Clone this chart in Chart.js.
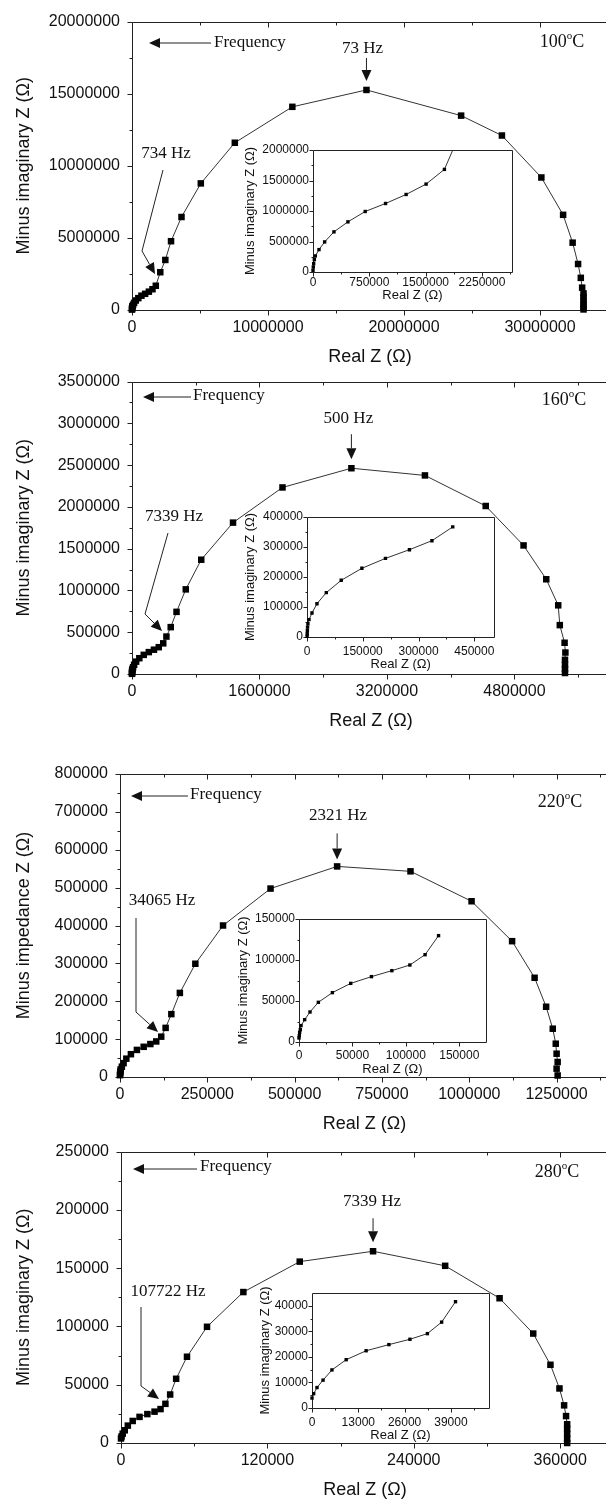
<!DOCTYPE html>
<html>
<head>
<meta charset="utf-8">
<script src="https://cdn.jsdelivr.net/npm/chart.js@4.4.0/dist/chart.umd.min.js"></script>
<style>
  html, body { margin: 0; padding: 0; background: #fff; overflow: hidden; }
  #page { position: relative; width: 606px; height: 1500px; overflow: hidden; background: #fff; }
  #page canvas { position: absolute; }
</style>
</head>
<body>
<div id="page"></div>
<script>
// Nyquist plots, real vs. minus imaginary impedance (ohm).
// "Hi" = high-frequency arc (the part shown in each inset), "Lo" = rest of the sweep.

// 100 °C
const re100Hi = [0, 4000, 9000, 18000, 31000, 80000, 155000, 279000, 465000, 695000, 966000, 1240000, 1506000, 1750000]
const im100Hi = [27000, 82000, 137000, 203000, 263000, 367000, 493000, 658000, 822000, 992000, 1123000, 1271000, 1441000, 1682000]
const re100Lo = [2080000, 2450000, 2870000, 3640000, 5060000, 7560000, 11790000, 17240000, 24200000, 27200000, 30100000, 31700000, 32400000, 32800000, 33000000, 33100000, 33200000, 33200000, 33200000, 33200000, 33200000, 33200000]
const im100Lo = [2620000, 3470000, 4770000, 6450000, 8780000, 11600000, 14090000, 15260000, 13480000, 12100000, 9190000, 6600000, 4670000, 3190000, 2230000, 1550000, 1150000, 900000, 650000, 420000, 200000, 40000]

// 160 °C
const re160Hi = [300, 600, 1000, 1500, 2500, 5400, 13400, 26800, 51900, 92000, 147600, 211000, 275500, 336000, 392000]
const im160Hi = [2200, 11000, 22000, 33000, 44000, 58000, 80000, 111000, 148000, 189000, 229000, 262000, 291000, 321000, 367000]
const re160Lo = [432000, 486000, 559000, 675000, 869000, 1268000, 1889000, 2754000, 3677000, 4440000, 4915000, 5200000, 5350000, 5370000, 5430000, 5440000, 5435000, 5435000, 5435000, 5435000]
const im160Lo = [448000, 561000, 744000, 1013000, 1368000, 1812000, 2233000, 2463000, 2377000, 2011000, 1539000, 1134000, 822000, 585000, 374000, 257000, 170000, 110000, 60000, 12000]

// 220 °C
const re220Hi = [0, 300, 600, 1250, 1900, 5300, 10300, 18100, 31250, 48400, 67800, 86900, 103750, 118000, 130600]
const im220Hi = [4900, 7700, 11800, 15000, 20000, 27200, 36600, 48400, 60200, 71500, 79700, 87000, 93900, 106500, 129700]
const re220Lo = [147000, 171400, 215700, 295000, 431000, 621600, 831700, 1006500, 1122600, 1187000, 1220000, 1239000, 1247600, 1250000, 1253000, 1250000, 1253000]
const im220Lo = [166000, 222000, 299000, 400000, 497500, 556000, 543000, 464000, 358600, 262000, 185500, 127500, 87900, 61500, 39600, 22000, 4000]

// 280 °C
const re280Hi = [0, 470, 1400, 3100, 5600, 9600, 15200, 21600, 27500, 32400, 36400, 40300]
const im280Hi = [3900, 5600, 8000, 10900, 14900, 18900, 22400, 24800, 26900, 29100, 33600, 41600]
const re280Lo = [45200, 54100, 70500, 100300, 146500, 206600, 265700, 310300, 337900, 352000, 359400, 363200, 364800, 365700, 365700, 365700, 365700, 365700]
const im280Lo = [55100, 74000, 99700, 129500, 155600, 164500, 152000, 124200, 93900, 67100, 46800, 32300, 23100, 16100, 12000, 7800, 3600, 0]

// tick labels
const xTicks100 = [0, 10000000, 20000000, 30000000]
const yTicks100 = [0, 5000000, 10000000, 15000000, 20000000]
const xTicks100In = [0, 750000, 1500000, 2250000]
const yTicks100In = [0, 500000, 1000000, 1500000, 2000000]
const xTicks160 = [0, 1600000, 3200000, 4800000]
const yTicks160 = [0, 500000, 1000000, 1500000, 2000000, 2500000, 3000000, 3500000]
const xTicks160In = [0, 150000, 300000, 450000]
const yTicks160In = [0, 100000, 200000, 300000, 400000]
const xTicks220 = [0, 250000, 500000, 750000, 1000000, 1250000]
const yTicks220 = [0, 100000, 200000, 300000, 400000, 500000, 600000, 700000, 800000]
const xTicks220In = [0, 50000, 100000, 150000]
const yTicks220In = [0, 50000, 100000, 150000]
const xTicks280 = [0, 120000, 240000, 360000]
const yTicks280 = [0, 50000, 100000, 150000, 200000, 250000]
const xTicks280In = [0, 13000, 26000, 39000]
const yTicks280In = [0, 10000, 20000, 30000, 40000]

const SANS = '"Liberation Sans", Arial, sans-serif'
const SERIF = '"Liberation Serif", "Times New Roman", serif'
const INK = '#111'
const page = document.getElementById('page')

// half-step minor ticks between the labelled ones
function minors(major, max) {
  const step = (major[1] - major[0]) / 2
  const out = []
  for (let v = step; v < max - step / 100; v += step) {
    if (!major.some(m => Math.abs(m - v) < step / 10)) out.push(v)
  }
  return out
}

function arrow(ctx, a, b, len = 11, half = 5) {
  const ang = Math.atan2(b[1] - a[1], b[0] - a[0])
  const bx = b[0] - len * Math.cos(ang), by = b[1] - len * Math.sin(ang)
  ctx.beginPath()
  ctx.moveTo(a[0], a[1])
  ctx.lineTo(bx, by)
  ctx.stroke()
  ctx.beginPath()
  ctx.moveTo(b[0], b[1])
  ctx.lineTo(bx + half * Math.sin(ang), by - half * Math.cos(ang))
  ctx.lineTo(bx - half * Math.sin(ang), by + half * Math.cos(ang))
  ctx.closePath()
  ctx.fill()
}

// axis box and tick marks
function framePlugin(o) {
  return {
    id: 'frame',
    beforeDatasetsDraw(chart) {
      const { ctx, chartArea: a } = chart
      const sx = chart.scales.x, sy = chart.scales.y
      const l = Math.round(a.left) + 0.5, r = Math.round(a.right) + 0.5
      const t = Math.round(a.top) + 0.5, b = Math.round(a.bottom) + 0.5
      ctx.save()
      if (o.inset) {
        ctx.fillStyle = '#fff'
        ctx.fillRect(a.left, a.top, a.right - a.left, a.bottom - a.top)
      }
      ctx.strokeStyle = '#222'
      ctx.lineWidth = 1
      ctx.beginPath()
      ctx.moveTo(r, t); ctx.lineTo(l, t); ctx.lineTo(l, b); ctx.lineTo(r, b); ctx.lineTo(r, t)
      const xMarks = (vals, len) => vals.forEach(v => {
        const p = Math.round(sx.getPixelForValue(v)) + 0.5
        ctx.moveTo(p, b); ctx.lineTo(p, b + len)
        if (o.topTicks) { ctx.moveTo(p, t); ctx.lineTo(p, t + len) }
      })
      const yMarks = (vals, len) => vals.forEach(v => {
        const p = Math.round(sy.getPixelForValue(v)) + 0.5
        ctx.moveTo(l, p); ctx.lineTo(l - len, p)
      })
      xMarks(o.xTicks, o.tickLen)
      xMarks(minors(o.xTicks, o.xMax), o.minorLen)
      yMarks(o.yTicks, o.tickLen)
      yMarks(minors(o.yTicks, o.yMax), o.minorLen)
      ctx.stroke()
      ctx.restore()
    }
  }
}

// frequency arrow, peak label, temperature, pointer label
function notesPlugin(o) {
  return {
    id: 'notes',
    afterDraw(chart) {
      const n = o.notes
      if (!n) return
      const ctx = chart.ctx
      const cx = o.box[0], cy = o.box[1]
      const P = p => [p[0] - cx, p[1] - cy]
      ctx.save()
      ctx.fillStyle = INK
      ctx.strokeStyle = '#222'
      ctx.lineWidth = 1
      ctx.font = '17px ' + SERIF
      ctx.textBaseline = 'middle'

      arrow(ctx, P(n.freq.tail), P(n.freq.tip))
      ctx.textAlign = 'left'
      const ft = P(n.freq.text)
      ctx.fillText('Frequency', ft[0], ft[1])

      // arrow over the apex of the arc
      const pts = chart.data.datasets[0].data
      const ys = pts.map(d => d.y)
      const k = ys.indexOf(Math.max(...ys))
      const px = chart.scales.x.getPixelForValue(pts[k].x)
      const py = chart.scales.y.getPixelForValue(pts[k].y)
      ctx.textAlign = 'center'
      ctx.fillText(n.peak.text, px + n.peak.dx, py + n.peak.label)
      arrow(ctx, [px, py + n.peak.from], [px, py + n.peak.to])

      const pl = n.pointer.path.map(P)
      ctx.beginPath()
      ctx.moveTo(pl[0][0], pl[0][1])
      ctx.lineTo(pl[1][0], pl[1][1])
      ctx.stroke()
      arrow(ctx, pl[1], pl[2], 11, 5)
      const pa = P(n.pointer.at)
      ctx.fillText(n.pointer.text, pa[0], pa[1])

      // temperature with superscript degree
      const tp = P(n.temp.at)
      ctx.font = '18px ' + SERIF
      const w1 = ctx.measureText(n.temp.value).width
      const wC = ctx.measureText('C').width
      ctx.font = '11px ' + SERIF
      const wo = ctx.measureText('o').width
      let x0 = tp[0] - (w1 + wo + wC) / 2
      ctx.textAlign = 'left'
      ctx.font = '18px ' + SERIF
      ctx.fillText(n.temp.value, x0, tp[1])
      ctx.font = '11px ' + SERIF
      ctx.fillText('o', x0 + w1, tp[1] - 6)
      ctx.font = '18px ' + SERIF
      ctx.fillText('C', x0 + w1 + wo, tp[1])
      ctx.restore()
    }
  }
}

function build(o) {
  const [L, T, R, B] = o.area
  const [cx, cy, cw, ch] = o.box
  const cv = document.createElement('canvas')
  cv.width = cw
  cv.height = ch
  cv.style.left = cx + 'px'
  cv.style.top = cy + 'px'
  page.appendChild(cv)

  const tickFont = { family: SANS, size: o.tickSize }
  const titleFont = { family: SANS, size: o.titleSize }
  const tickLH = o.tickSize * 1.2, titleLH = o.titleSize * 1.2
  const points = o.re.map((v, i) => ({ x: v, y: o.im[i] }))

  return new Chart(cv, {
    type: 'scatter',
    data: {
      datasets: [{
        data: points,
        showLine: true,
        borderColor: '#333',
        borderWidth: 1,
        pointStyle: 'rect',
        pointRadius: o.pointR,
        pointBackgroundColor: '#000',
        pointBorderWidth: 0,
        clip: o.clip
      }]
    },
    options: {
      responsive: false,
      animation: false,
      events: [],
      layout: { autoPadding: false, padding: { left: 0, top: T - cy, right: cx + cw - R, bottom: 0 } },
      plugins: { legend: { display: false }, tooltip: { enabled: false } },
      scales: {
        x: {
          type: 'linear', position: 'bottom', min: 0, max: o.xMax,
          afterBuildTicks: s => { s.ticks = o.xTicks.map(v => ({ value: v })) },
          afterFit: s => { s.height = cy + ch - B },
          grid: { display: false, drawTicks: false },
          border: { display: false },
          ticks: {
            autoSkip: false, maxRotation: 0, minRotation: 0,
            padding: o.xLabelGap - tickLH / 2,
            color: INK, font: tickFont,
            callback: v => String(v)
          },
          title: {
            display: true, text: 'Real Z (Ω)', color: INK, font: titleFont,
            padding: { top: 0, bottom: (cy + ch) - (B + o.xTitleGap) - titleLH / 2 }
          }
        },
        y: {
          type: 'linear', position: 'left', min: 0, max: o.yMax,
          afterBuildTicks: s => { s.ticks = o.yTicks.map(v => ({ value: v })) },
          afterFit: s => { s.width = L - cx },
          grid: { display: false, drawTicks: false },
          border: { display: false },
          ticks: {
            autoSkip: false, padding: o.yLabelGap,
            color: INK, font: tickFont,
            callback: v => String(v)
          },
          title: {
            display: true, text: o.yTitle, color: INK, font: titleFont,
            padding: { top: o.yTitleX - cx - titleLH / 2, bottom: 0 }
          }
        }
      }
    },
    plugins: [framePlugin(o), notesPlugin(o)]
  })
}

const mainStyle = {
  tickSize: 16, titleSize: 18, xLabelGap: 18, yLabelGap: 12, xTitleGap: 47, yTitleX: 24,
  pointR: 4.6, topTicks: true, tickLen: 5, minorLen: 3, clip: false, inset: false
}

function insetStyle(area, yTitleOff, xLabelGap, xTitleGap) {
  const [L, T, R, B] = area
  return {
    area, box: [L - 75, T - 12, R - (L - 75) + 8, B - (T - 12) + 40],
    tickSize: 12, titleSize: 13, xLabelGap, yLabelGap: 4, xTitleGap, yTitleX: L - yTitleOff,
    pointR: 2.4, topTicks: false, tickLen: 4, minorLen: 2,
    clip: { left: 4, top: 0, right: 0, bottom: 4 }, inset: true,
    yTitle: 'Minus imaginary Z (Ω)'
  }
}

// 100 °C
build(Object.assign({}, mainStyle, {
  re: re100Hi.concat(re100Lo), im: im100Hi.concat(im100Lo),
  area: [132, 18, 608, 310], box: [0, 0, 620, 372],
  xMax: 35000000, yMax: 20000000, xTicks: xTicks100, yTicks: yTicks100,
  yTitle: 'Minus imaginary Z (Ω)',
  notes: {
    freq: { tip: [149, 43], tail: [211, 43], text: [214, 43] },
    peak: { text: '73 Hz', dx: -4, label: -41, from: -32, to: -9 },
    temp: { value: '100', at: [562, 42] },
    pointer: { text: '734 Hz', at: [166, 154], path: [[163, 170], [142, 251], [155, 274]] }
  }
}))
build(Object.assign(insetStyle([313, 150, 512, 272], 63, 11, 23), {
  re: re100Hi.concat(re100Lo.slice(0, 1)), im: im100Hi.concat(im100Lo.slice(0, 1)),
  xMax: 2650000, yMax: 2000000, xTicks: xTicks100In, yTicks: yTicks100In
}))

// 160 °C
build(Object.assign({}, mainStyle, {
  re: re160Hi.concat(re160Lo), im: im160Hi.concat(im160Lo),
  area: [132, 376, 610, 674], box: [0, 360, 620, 378],
  xMax: 6000000, yMax: 3500000, xTicks: xTicks160, yTicks: yTicks160,
  yTitle: 'Minus imaginary Z (Ω)',
  notes: {
    freq: { tip: [143, 397], tail: [191, 397], text: [193, 396] },
    peak: { text: '500 Hz', dx: -3, label: -50, from: -34, to: -9 },
    temp: { value: '160', at: [564, 400] },
    pointer: { text: '7339 Hz', at: [174, 517], path: [[168, 533], [145, 614], [162, 631]] }
  }
}))
build(Object.assign(insetStyle([307, 517, 495, 637], 57, 15, 27), {
  re: re160Hi, im: im160Hi,
  xMax: 504000, yMax: 400000, xTicks: xTicks160In, yTicks: yTicks160In
}))

// 220 °C
build(Object.assign({}, mainStyle, {
  re: re220Hi.concat(re220Lo), im: im220Hi.concat(im220Lo),
  area: [120, 774, 609, 1077], box: [0, 745, 620, 395],
  xMax: 1400000, yMax: 800000, xTicks: xTicks220, yTicks: yTicks220,
  yTitle: 'Minus impedance Z (Ω)',
  notes: {
    freq: { tip: [131, 796], tail: [188, 796], text: [190, 795] },
    peak: { text: '2321 Hz', dx: 1, label: -51, from: -33, to: -7 },
    temp: { value: '220', at: [560, 802] },
    pointer: { text: '34065 Hz', at: [162, 901], path: [[136, 918], [136, 1012], [158, 1032]] }
  }
}))
build(Object.assign(insetStyle([299, 919, 486, 1042], 56, 14, 27), {
  re: re220Hi, im: im220Hi,
  xMax: 175000, yMax: 150000, xTicks: xTicks220In, yTicks: yTicks220In
}))

// 280 °C
build(Object.assign({}, mainStyle, {
  re: re280Hi.concat(re280Lo), im: im280Hi.concat(im280Lo),
  area: [121, 1145, 609, 1443], box: [0, 1130, 620, 370],
  xMax: 400000, yMax: 250000, xTicks: xTicks280, yTicks: yTicks280,
  yTitle: 'Minus imaginary Z (Ω)',
  notes: {
    freq: { tip: [133, 1169], tail: [197, 1169], text: [200, 1167] },
    peak: { text: '7339 Hz', dx: -1, label: -50, from: -33, to: -9 },
    temp: { value: '280', at: [557, 1172] },
    pointer: { text: '107722 Hz', at: [168, 1292], path: [[141, 1307], [141, 1386], [159, 1399]] }
  }
}))
build(Object.assign(insetStyle([312, 1293, 489, 1408], 47, 15, 27), {
  re: re280Hi, im: im280Hi,
  xMax: 49700, yMax: 45000, xTicks: xTicks280In, yTicks: yTicks280In
}))
</script>
</body>
</html>
